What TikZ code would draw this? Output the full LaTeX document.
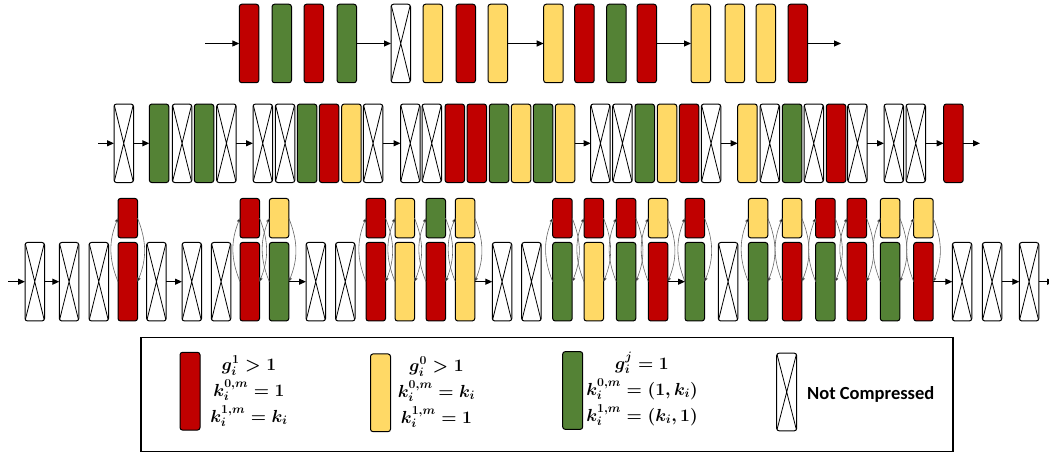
\RequirePackage{fix-cm}
\documentclass[tikz,border=0pt]{standalone}
\usepackage{fontspec}
\newfontfamily\calib{Carlito}
\usetikzlibrary{arrows.meta}
\definecolor{cR}{HTML}{C00000}
\definecolor{cG}{HTML}{548235}
\definecolor{cY}{HTML}{FFD966}
\begin{document}
\begin{tikzpicture}[x=1pt,y=-1pt,
  box/.style={draw=black, line width=1pt, rounded corners=2.5pt, minimum width=19.5pt, inner sep=0pt, outer sep=0pt},
  tallbox/.style={box, minimum height=78.5pt},
  upperbox/.style={box, minimum height=39.4pt},
  boxR/.style={fill=cR}, boxG/.style={fill=cG}, boxY/.style={fill=cY},
  boxX/.style={fill=white, path picture={\draw[line width=0.8pt] (path picture bounding box.north west) -- (path picture bounding box.south east) (path picture bounding box.north east) -- (path picture bounding box.south west);}},
  flowarrow/.style={line width=1.1pt, -{Triangle[length=7pt,width=6pt]}},
  looparrow/.style={line width=0.6pt, draw=black!60, -{Triangle[length=4pt,width=3.5pt,fill=black]}, bend left=22},
  legtext/.style={font=\fontsize{17.5}{26}\selectfont\boldmath, align=center, inner sep=0pt},
]
\useasboundingbox (0,0) rectangle (1049,454);
% Row 1
\foreach \x/\t [count=\i] in {239.3/R,272/G,304/R,337/G,391/X,423/Y,456/R,488/Y,543.7/Y,574.7/R,606.7/G,637/R,691/Y,725/Y,756/Y,788/R}
  \node[tallbox, box\t] (a\i) at (\x+9.75,43.5) {};
\coordinate (a0) at (205,43.5);
\coordinate (a17) at (841,43.5);
\draw[flowarrow] (a0) -- (a1.west);
\draw[flowarrow] (a4.east) -- (a5.west);
\draw[flowarrow] (a8.east) -- (a9.west);
\draw[flowarrow] (a12.east) -- (a13.west);
\draw[flowarrow] (a16.east) -- (a17);
% Row 2
\foreach \x/\t [count=\i] in {114/X,149.3/G,172.3/X,194.3/G,216.7/X,253/X,275.3/X,297.3/G,319.3/R,341.7/Y,363.3/X,400.5/X,422/X,445/R,467/R,489.3/G,511.3/Y,533.3/G,555.3/Y,590.7/X,612.7/X,635/G,657.3/Y,679.3/R,701.3/X,737.7/Y,760/X,782.3/G,804/X,826.3/R,847.7/X,884/X,906/X,943.7/R}
  \node[tallbox, box\t] (b\i) at (\x+9.75,143.3) {};
\coordinate (b0) at (98,143.3);
\coordinate (b35) at (980,143.3);
\draw[flowarrow] (b0) -- (b1.west);
\draw[flowarrow] (b1.east) -- (b2.west);
\draw[flowarrow] (b5.east) -- (b6.west);
\draw[flowarrow] (b11.east) -- (b12.west);
\draw[flowarrow] (b19.east) -- (b20.west);
\draw[flowarrow] (b25.east) -- (b26.west);
\draw[flowarrow] (b31.east) -- (b32.west);
\draw[flowarrow] (b33.east) -- (b34.west);
\draw[flowarrow] (b34.east) -- (b35);
% Row 3
\foreach \x/\t [count=\i] in {25/X,59.3/X,89/X,118/R,146.7/X,182/X,211.3/X,240/R,269.3/G,306/X,335.5/X,366/R,395/Y,426/R,455.3/Y,492.3/X,521.7/X,552.7/G,584/Y,616.3/G,648.3/R,685/G,718.3/X,748.3/G,782.3/R,815.7/G,847/R,880.3/G,913.7/R,952.3/X,982.3/X,1019.3/X}
  \node[tallbox, box\t] (c\i) at (\x+9.75,281.7) {};
\foreach \i/\t in {4/R,8/R,9/Y,12/R,13/Y,14/G,15/Y,18/R,19/R,20/R,21/Y,22/R,24/Y,25/Y,26/R,27/R,28/Y,29/Y}
  \node[upperbox, box\t] (u\i) at ([yshift=24.3pt]c\i.north) {};
\foreach \i in {4,8,9,12,13,14,15,18,19,20,21,22,24,25,26,27,28,29}{
  \draw[looparrow] (c\i.west) to (u\i.west);
  \draw[looparrow] (u\i.east) to (c\i.east);
}
\coordinate (c0) at (8,281.7);
\coordinate (c33) at (1054,281.7);
\draw[flowarrow] (c0) -- (c1.west);
\draw[flowarrow] (c1.east) -- (c2.west);
\draw[flowarrow] (c5.east) -- (c6.west);
\draw[flowarrow] (c9.east) -- (c10.west);
\draw[flowarrow] (c15.east) -- (c16.west);
\draw[flowarrow] (c21.east) -- (c22.west);
\draw[flowarrow] (c29.east) -- (c30.west);
\draw[flowarrow] (c31.east) -- (c32.west);
\draw[flowarrow] (c32.east) -- (c33);
% Legend
\node[draw, line width=1.8pt, minimum width=812pt, minimum height=114pt, inner sep=0pt] (legend) at (547.2,394.5) {};
\node[box, boxR, minimum height=77.7pt, minimum width=20pt] (lR) at (190,391.2) {};
\node[box, boxY, minimum height=77.7pt, minimum width=20pt] (lY) at (380.5,392.8) {};
\node[box, boxG, minimum height=77.7pt, minimum width=20pt] (lG) at (572.7,390.5) {};
\node[box, boxX, minimum height=77.7pt, minimum width=20pt] (lX) at (786.7,392) {};
\node[legtext] (tR) at (249,391) {$g_i^1 > 1$\\$k_i^{0,m} = 1$\\$k_i^{1,m} = k_i$};
\node[legtext] (tY) at (436.5,392) {$g_i^0 > 1$\\$k_i^{0,m} = k_i$\\$k_i^{1,m} = 1$};
\node[legtext] (tG) at (642,389) {$g_i^j = 1$\\$k_i^{0,m} = (1, k_i)$\\$k_i^{1,m} = (k_i, 1)$};
\node[font=\calib\bfseries\fontsize{18.5}{22}\selectfont, anchor=west, inner sep=0pt] (tX) at (807,394) {Not Compressed};
\end{tikzpicture}
\end{document}
